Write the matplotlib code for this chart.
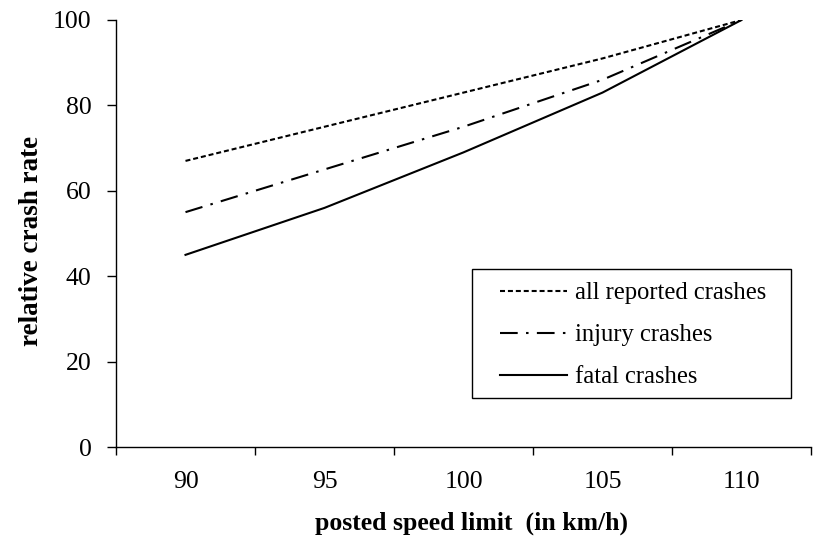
import numpy as np
import matplotlib
matplotlib.use('Agg')
import matplotlib.pyplot as plt
from matplotlib.patches import Rectangle

# posted speed limits (km/h) and relative crash rates (110 km/h = 100)
speeds = ['90', '95', '100', '105', '110']
all_crashes = [67, 75, 83, 91, 100]
injury_crashes = [55, 65, 75, 86, 100]
fatal_crashes = [45, 56, 69, 83, 100]

plt.rcParams['font.family'] = ['Liberation Serif', 'DejaVu Serif']

W, H = 817, 544
fig = plt.figure(figsize=(W / 100, H / 100), dpi=100)
ax = fig.add_axes([116 / W, 1 - 447 / H, 695 / W, 427 / H])

x = np.arange(len(speeds))
ax.plot(x, all_crashes, color='black', lw=1.5, linestyle=(0, (2.4, 1.4)),
        label='all reported crashes')
ax.plot(x, injury_crashes, color='black', lw=1.5, linestyle=(0, (8.5, 4, 1.2, 4)),
        label='injury crashes')
ax.plot(x, fatal_crashes, color='black', lw=1.5, linestyle='-',
        label='fatal crashes')

ax.set_xlim(-0.5, len(speeds) - 0.5)
ax.set_ylim(0, 100)
ax.set_yticks(range(0, 101, 20))

# category axis: labels centred, tick marks between categories
ax.set_xticks(x)
ax.set_xticklabels(speeds)
ax.set_xticks(np.arange(-0.5, len(speeds)), minor=True)
ax.tick_params(axis='x', which='major', length=0, pad=17.5, labelsize=18.5)
ax.tick_params(axis='x', which='minor', length=5.5, direction='out', width=1)
ax.tick_params(axis='y', length=6.5, direction='out', width=1, labelsize=18.5, pad=11)

for side in ['top', 'right']:
    ax.spines[side].set_visible(False)
for side in ['left', 'bottom']:
    ax.spines[side].set_linewidth(1)

# axis titles
fig.text(471.5 / W, 1 - 530 / H, 'posted speed limit  (in km/h)', fontsize=18.5,
         fontweight='bold', ha='center', va='baseline')
fig.text(31.5 / W, 1 - 241 / H, 'relative crash rate', fontsize=19.5,
         fontweight='bold', ha='center', va='center', rotation=90)

# legend (drawn without its own frame, box added separately)
leg = ax.legend(loc='upper left', bbox_to_anchor=(500 / W, 1 - 282 / H),
                bbox_transform=fig.transFigure, fontsize=17.7, frameon=False,
                handlelength=2.72, handletextpad=0.33, labelspacing=0.81,
                borderpad=0, borderaxespad=0)
fig.patches.append(Rectangle((471.7 / W, 1 - 397.7 / H), 319.3 / W, 128.7 / H,
                             transform=fig.transFigure, fill=False,
                             edgecolor='black', lw=1))

fig.savefig('out.png', dpi=100)
